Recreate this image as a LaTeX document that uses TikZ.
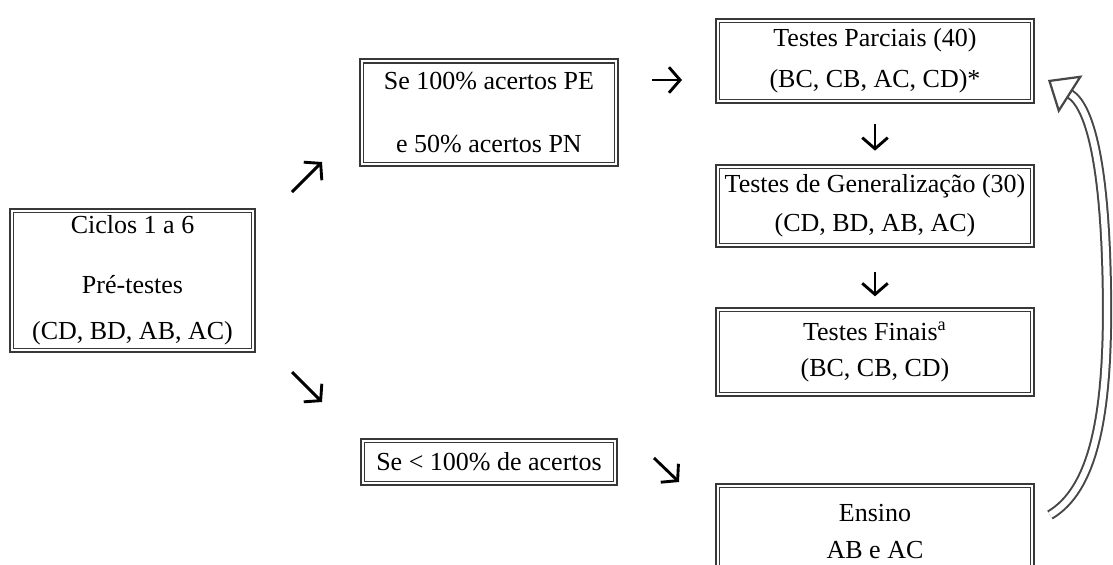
\documentclass[tikz,border=0pt]{standalone}
\usepackage{fontspec}
\setmainfont{Liberation Serif}
\usetikzlibrary{arrows.meta}

\begin{document}
\begin{tikzpicture}[x=0.45pt,y=-0.45pt,
  caixa/.style={draw=black!78,line width=0.8pt,double=white,double distance=0.9pt,
    align=center,inner sep=0pt,font=\fontsize{11.7}{17.5}\selectfont},
  seta/.style={line width=1.3pt,-{Straight Barb[length=5pt,width=11.5pt]}},
  volta/.style={draw=black!72,line width=0.9pt,double=white,double distance=2.8pt,
    -{Triangle[open,length=12pt,width=20pt,line width=1pt]}}]
\useasboundingbox (0,0) rectangle (1113,565);
\node[caixa,minimum width=108.8pt,minimum height=62.9pt] (ciclos) at (132.5,280.5)
  {Ciclos 1 a 6\\[9.5pt] Pré-testes\\[3pt] (CD, BD, AB, AC)};
\node[caixa,minimum width=114.6pt,minimum height=46.6pt] (sepe) at (489,112.5)
  {Se 100\% acertos PE\\[11pt] e 50\% acertos PN};
\node[caixa,minimum width=113.7pt,minimum height=19.2pt] (semenos) at (489,462)
  {Se < 100\% de acertos};
\node[caixa,minimum width=141.6pt,minimum height=36.3pt] (tp) at (875,61)
  {Testes Parciais (40)\\[1pt] (BC, CB, AC, CD)*};
\node[caixa,minimum width=141.6pt,minimum height=35.4pt] (gen) at (875,206)
  {Testes de Generalização (30)\\ (CD, BD, AB, AC)};
\node[caixa,minimum width=141.6pt,minimum height=38.1pt] (tf) at (875,352)
  {Testes Finais\textsuperscript{a}\\[-1pt] (BC, CB, CD)};
\node[caixa,minimum width=141.6pt,minimum height=41.3pt] (ensino) at (875,531.5)
  {Ensino\\[-1pt] AB e AC};
\coordinate (s1) at (292,192); \coordinate (e1) at (322,162);
\coordinate (s2) at (292,372); \coordinate (e2) at (322,402);
\coordinate (s3) at (652,80); \coordinate (e3) at (682,80);
\coordinate (s4) at (654,458); \coordinate (e4) at (679,482);
\draw[seta] (s1) -- (e1); \draw[seta] (s2) -- (e2);
\draw[seta] (s3) -- (e3); \draw[seta] (s4) -- (e4);
\draw[seta,shorten <=10pt,shorten >=6.8pt] (tp) -- (gen);
\draw[seta,shorten <=11.5pt,shorten >=5.6pt] (gen) -- (tf);
\coordinate (cauda) at (1050,515); \coordinate (ponta) at (1048,80);
\draw[volta] (cauda) .. controls (1092,490) and (1108,420) .. (1107,300)
  .. controls (1106,175) and (1092,108) .. (ponta);
\end{tikzpicture}
\end{document}
